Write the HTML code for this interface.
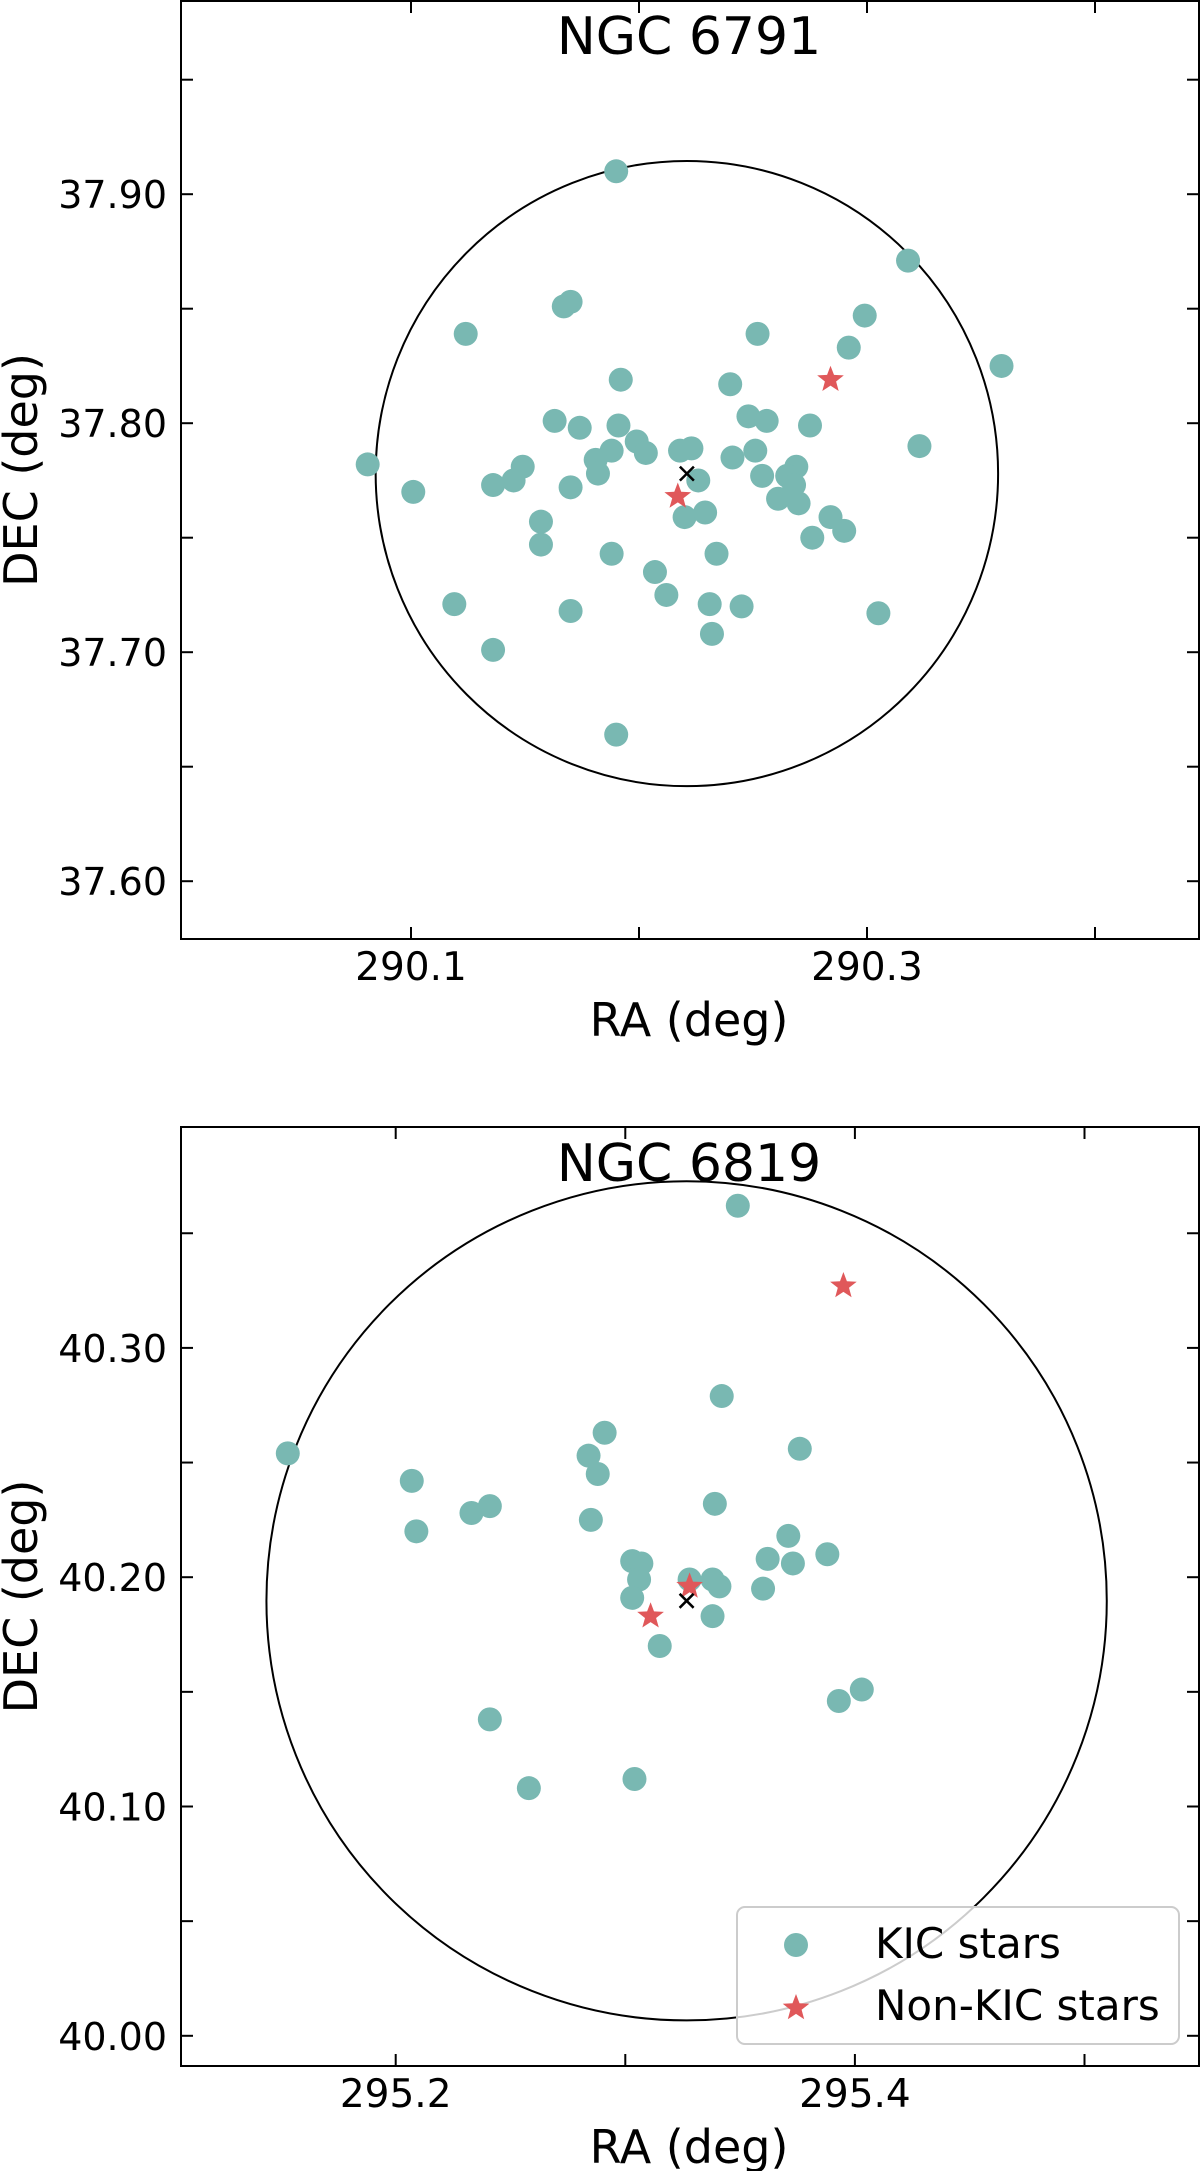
<!DOCTYPE html>
<html><head><meta charset="utf-8"><style>
html,body{margin:0;padding:0;background:#fff;}
svg{display:block;font-family:"DejaVu Sans","Liberation Sans",sans-serif;}
</style></head><body>
<svg id="chart" width="1200" height="2171" viewBox="0 0 1200 2171" xmlns="http://www.w3.org/2000/svg"></svg>
<script>
// ---- NGC 6791 data ----
const kic6791Ra = [290.190,290.318,290.167,290.170,290.124,290.252,290.299,290.292,290.359,290.192,290.240,290.163,290.174,290.191,290.248,290.256,290.275,290.323,290.199,290.203,290.188,290.218,290.223,290.251,290.241,290.081,290.149,290.145,290.136,290.181,290.182,290.170,290.101,290.254,290.269,290.265,290.268,290.261,290.270,290.226,290.220,290.229,290.157,290.157,290.284,290.290,290.276,290.188,290.234,290.207,290.212,290.119,290.170,290.231,290.245,290.305,290.232,290.136,290.190];
const kic6791Dec = [37.910,37.871,37.851,37.853,37.839,37.839,37.847,37.833,37.825,37.819,37.817,37.801,37.798,37.799,37.803,37.801,37.799,37.790,37.792,37.787,37.788,37.788,37.789,37.788,37.785,37.782,37.781,37.775,37.773,37.784,37.778,37.772,37.770,37.777,37.781,37.777,37.773,37.767,37.765,37.775,37.759,37.761,37.757,37.747,37.759,37.753,37.750,37.743,37.743,37.735,37.725,37.721,37.718,37.721,37.720,37.717,37.708,37.701,37.664];
const non6791Ra = [290.284,290.217];
const non6791Dec = [37.819,37.768];
const center6791 = [290.221,37.778];
const radius6791 = 0.1365;
const xTicks6791 = [290.1,290.2,290.3,290.4];
const xLabels6791 = ["290.1","","290.3",""];
const yTicks6791 = [37.60,37.65,37.70,37.75,37.80,37.85,37.90,37.95];
const yLabels6791 = ["37.60","","37.70","","37.80","","37.90",""];

// ---- NGC 6819 data ----
const kic6819Ra = [295.349,295.342,295.153,295.291,295.376,295.284,295.288,295.207,295.241,295.233,295.209,295.339,295.285,295.371,295.362,295.373,295.388,295.303,295.307,295.306,295.303,295.328,295.338,295.341,295.360,295.338,295.315,295.403,295.393,295.241,295.304,295.258];
const kic6819Dec = [40.362,40.279,40.254,40.263,40.256,40.253,40.245,40.242,40.231,40.228,40.220,40.232,40.225,40.218,40.208,40.206,40.210,40.207,40.206,40.199,40.191,40.199,40.199,40.196,40.195,40.183,40.170,40.151,40.146,40.138,40.112,40.108];
const non6819Ra = [295.395,295.328,295.311];
const non6819Dec = [40.327,40.196,40.183];
const center6819 = [295.3267,40.1897];
const radius6819 = 0.183;
const xTicks6819 = [295.2,295.3,295.4,295.5];
const xLabels6819 = ["295.2","","295.4",""];
const yTicks6819 = [40.00,40.05,40.10,40.15,40.20,40.25,40.30,40.35];
const yLabels6819 = ["40.00","","40.10","","40.20","","40.30",""];

const NS = "http://www.w3.org/2000/svg";
const svg = document.getElementById('chart');
const TEAL = "#79b8b2", RED = "#e0585a";

function mk(tag, attrs, parent){
  const e = document.createElementNS(NS, tag);
  for (const k in attrs) e.setAttribute(k, attrs[k]);
  (parent||svg).appendChild(e);
  return e;
}
function starPath(cx, cy, R){
  const r = R*0.42; let d = "";
  for (let i=0;i<10;i++){
    const a = -Math.PI/2 + i*Math.PI/5;
    const rr = i%2===0 ? R : r;
    d += (i===0?"M":"L") + (cx+rr*Math.cos(a)).toFixed(1) + "," + (cy+rr*Math.sin(a)).toFixed(1);
  }
  return d + "Z";
}

function panel(cfg){
  const g = mk('g', {});
  
  
  const L=cfg.left, R=cfg.right, T=cfg.top, B=cfg.bottom;
  const xs = v => cfg.x0px + (v - cfg.x0) * cfg.kx;
  const ys = v => cfg.y0px - (v - cfg.y0) * cfg.ky;
  const clipId = cfg.name + '-clip';
  const defs = mk('defs', {}, g);
  const cp = mk('clipPath', {id: clipId}, defs);
  mk('rect', {x:L, y:T, width:R-L, height:B-T}, cp);
  const plot = mk('g', {'clip-path':'url(#'+clipId+')'}, g);
  
  
  // circle (drawn with data-unit radius in each axis)
  const c = mk('ellipse', {cx:xs(cfg.center[0]), cy:ys(cfg.center[1]), rx:cfg.radius*cfg.kx, ry:cfg.radius*cfg.ky, fill:'none', stroke:'#000', 'stroke-width':2}, plot);
  
  
  cfg.kRa.forEach((ra,i)=>{
    const p = mk('circle', {cx:xs(ra), cy:ys(cfg.kDec[i]), r:12, fill:TEAL}, plot);
    
    
  });
  cfg.nRa.forEach((ra,i)=>{
    const p = mk('path', {d:starPath(xs(ra), ys(cfg.nDec[i]), 14), fill:RED}, plot);
    
    
  });
  const cx = xs(cfg.center[0]), cy = ys(cfg.center[1]);
  const xm = mk('path', {d:`M${cx-7},${cy-7}L${cx+7},${cy+7}M${cx-7},${cy+7}L${cx+7},${cy-7}`, stroke:'#000', 'stroke-width':2.5}, plot);
  
  
  // ticks
  cfg.xTicks.forEach((v,i)=>{
    const x = xs(v);
    mk('line', {x1:x, x2:x, y1:B, y2:B-12, stroke:'#000', 'stroke-width':2}, g);
    mk('line', {x1:x, x2:x, y1:T, y2:T+12, stroke:'#000', 'stroke-width':2}, g);
    if (cfg.xLabels[i]){
      const t = mk('text', {x:x, y:B+41, 'font-size':39, 'text-anchor':'middle'}, g);
      t.textContent = cfg.xLabels[i];
      
      
    }
  });
  cfg.yTicks.forEach((v,i)=>{
    const y = ys(v);
    mk('line', {x1:L, x2:L+12, y1:y, y2:y, stroke:'#000', 'stroke-width':2}, g);
    mk('line', {x1:R, x2:R-12, y1:y, y2:y, stroke:'#000', 'stroke-width':2}, g);
    if (cfg.yLabels[i]){
      const t = mk('text', {x:167, y:y+14, 'font-size':38, 'text-anchor':'end'}, g);
      t.textContent = cfg.yLabels[i];
      
      
    }
  });
  // spines
  const sp = mk('rect', {x:L, y:T, width:R-L, height:B-T, fill:'none', stroke:'#000', 'stroke-width':2}, g);
  
  
  const title = mk('text', {x:689, y:cfg.titleY, 'font-size':52, 'text-anchor':'middle'}, g);
  title.textContent = cfg.title;
  
  
  const xl = mk('text', {x:689, y:B+97, 'font-size':46, 'text-anchor':'middle'}, g);
  xl.textContent = 'RA (deg)';
  
  
  const ym = (T+B)/2;
  const yl = mk('text', {x:0, y:0, 'font-size':46, 'text-anchor':'middle', transform:`translate(37,${ym}) rotate(-90)`}, g);
  yl.textContent = 'DEC (deg)';
  
  
  return g;
}

panel({name:'ngc6791-panel', title:'NGC 6791', titleY:54,
  left:181, right:1199, top:1, bottom:939,
  x0:290.1, x0px:411, kx:2280, y0:37.90, y0px:194.2, ky:2290,
  center:center6791, radius:radius6791,
  kRa:kic6791Ra, kDec:kic6791Dec, nRa:non6791Ra, nDec:non6791Dec,
  xTicks:xTicks6791, xLabels:xLabels6791, yTicks:yTicks6791, yLabels:yLabels6791});

panel({name:'ngc6819-panel', title:'NGC 6819', titleY:1181,
  left:181, right:1199, top:1127, bottom:2066,
  x0:295.2, x0px:395.7, kx:2296, y0:40.30, y0px:1347.9, ky:2293,
  center:center6819, radius:radius6819,
  kRa:kic6819Ra, kDec:kic6819Dec, nRa:non6819Ra, nDec:non6819Dec,
  xTicks:xTicks6819, xLabels:xLabels6819, yTicks:yTicks6819, yLabels:yLabels6819});

// legend
const lg = mk('g', {});


mk('rect', {x:737, y:1907, width:442, height:137, rx:8, fill:'rgba(255,255,255,0.8)', stroke:'#cccccc', 'stroke-width':2}, lg);
const le1 = mk('g', {}, lg);


mk('circle', {cx:796, cy:1945, r:12, fill:TEAL}, le1);
const t1 = mk('text', {x:875, y:1958, 'font-size':42}, le1);
t1.textContent = 'KIC stars';
const le2 = mk('g', {}, lg);


mk('path', {d:starPath(796, 2008, 14), fill:RED}, le2);
const t2 = mk('text', {x:875, y:2020, 'font-size':42}, le2);
t2.textContent = 'Non-KIC stars';
</script>
</body></html>
